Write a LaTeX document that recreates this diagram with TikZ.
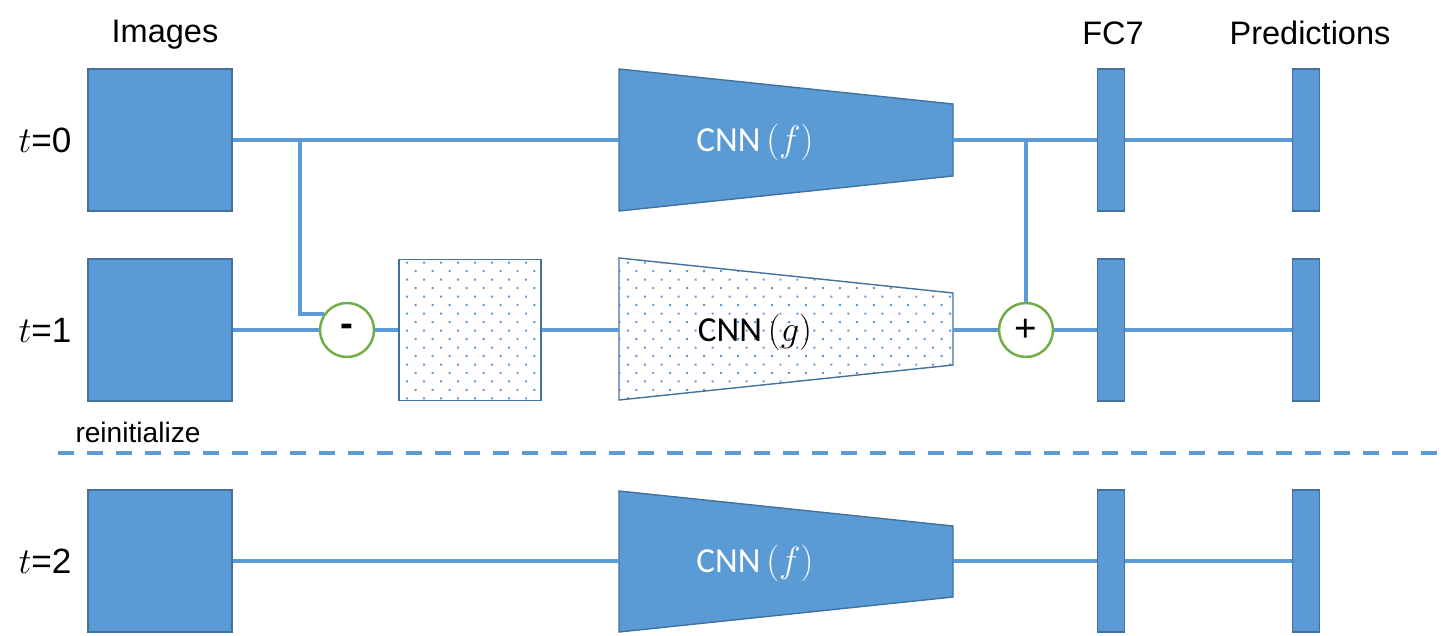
\documentclass[tikz,border=0pt]{standalone}
\usepackage{fontspec}
\setmainfont{Liberation Sans}
\newfontfamily\cnnfont{Carlito}
\usepackage{tikz}
\usetikzlibrary{patterns.meta}
\definecolor{boxblue}{RGB}{91,155,213}
\definecolor{edgeblue}{RGB}{65,113,156}
\definecolor{opgreen}{RGB}{112,173,71}

\begin{document}
\begin{tikzpicture}[x=0.02cm, y=-0.02cm,
  wire/.style={boxblue, line width=2.2pt},
  imgbox/.style={draw=edgeblue, fill=boxblue, line width=0.8pt, minimum width=2.88cm, minimum height=2.84cm, inner sep=0pt},
  dotfill/.style={pattern={Dots[distance=0.24cm, angle=45, radius=0.028cm]}, pattern color=boxblue},
  diffbox/.style={draw=edgeblue, line width=0.8pt, minimum width=2.84cm, minimum height=2.82cm, inner sep=0pt, dotfill},
  bar/.style={draw=edgeblue, fill=boxblue, line width=0.8pt, minimum width=0.55cm, minimum height=2.84cm, inner sep=0pt},
  op/.style={circle, draw=opgreen, fill=white, line width=1.4pt, minimum size=1.08cm, inner sep=0pt, font=\fontsize{22}{24}\selectfont},
  head/.style={font=\fontsize{18.5}{22}\selectfont},
  tlabel/.style={font=\fontsize{20}{24}\selectfont},
  cnnlabel/.style={font=\cnnfont\fontsize{20}{24}\selectfont}]
  \useasboundingbox (0,0) rectangle (1455,636);

  % headings
  \node[head] (images) at (165,35) {Images};
  \node[head] (fc7) at (1113,33) {FC7};
  \node[head] (preds) at (1310,33) {Predictions};

  % t = 0
  \node[tlabel] (t0) at (45,140) {$t$=0};
  \node[imgbox] (img0) at (160,140) {};
  \draw[edgeblue, fill=boxblue, line width=0.8pt] (619,69) -- (953,104) -- (953,176) -- (619,211) -- cycle;
  \coordinate (cnn0in) at (619,140);
  \coordinate (cnn0out) at (953,140);
  \node[cnnlabel, text=white] (cnn0) at (755,142) {CNN\,$(f)$};
  \node[bar] (fc0) at (1111,140) {};
  \node[bar] (pred0) at (1306,140) {};

  % t = 1
  \node[tlabel] (t1) at (45,330) {$t$=1};
  \node[imgbox] (img1) at (160,330) {};
  \node[op] (minus) at (347,330) {\textbf{-}};
  \node[diffbox] (diff) at (470,330) {};
  \draw[edgeblue, line width=0.8pt, dotfill] (619,258) -- (953,293) -- (953,365) -- (619,400) -- cycle;
  \coordinate (cnn1in) at (619,330);
  \coordinate (cnn1out) at (953,330);
  \node[cnnlabel] (cnn1) at (755,332) {CNN\,$(g)$};
  \node[op] (plus) at (1026,330) {+};
  \node[bar] (fc1) at (1111,330) {};
  \node[bar] (pred1) at (1306,330) {};
  \node[font=\fontsize{16}{19}\selectfont] (reinit) at (138,432) {reinitialize};

  % t = 2
  \node[tlabel] (t2) at (45,561) {$t$=2};
  \node[imgbox] (img2) at (160,561) {};
  \draw[edgeblue, fill=boxblue, line width=0.8pt] (619,491) -- (953,526) -- (953,597) -- (619,632) -- cycle;
  \coordinate (cnn2in) at (619,561);
  \coordinate (cnn2out) at (953,561);
  \node[cnnlabel, text=white] (cnn2) at (755,563) {CNN\,$(f)$};
  \node[bar] (fc2) at (1111,561) {};
  \node[bar] (pred2) at (1306,561) {};

  % wires
  \coordinate (br0) at (300,140);
  \draw[wire] (img0.east) -- (cnn0in) (cnn0out) -- (fc0.west) (fc0.east) -- (pred0.west);
  \draw[wire] (br0) |- (minus.146);
  \draw[wire] (plus.north) -- (plus.north |- cnn0out);
  \draw[wire] (img1.east) -- (minus.west) (minus.east) -- (diff.west) (diff.east) -- (cnn1in)
        (cnn1out) -- (plus.west) (plus.east) -- (fc1.west) (fc1.east) -- (pred1.west);
  \draw[wire] (img2.east) -- (cnn2in) (cnn2out) -- (fc2.west) (fc2.east) -- (pred2.west);

  % separator
  \draw[boxblue, line width=2.2pt, dash pattern=on 0.33cm off 0.25cm] (58,453) -- (1448,453);
\end{tikzpicture}
\end{document}
